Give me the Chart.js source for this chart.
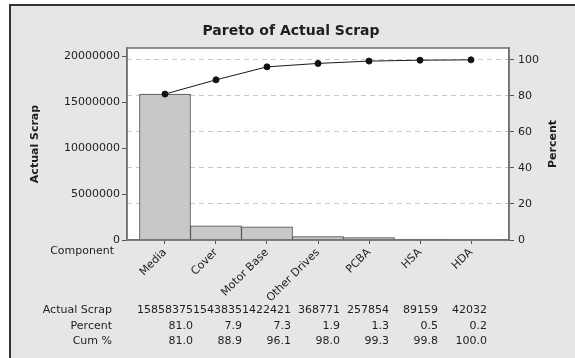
<!DOCTYPE html>
<html>
<head>
<meta charset="utf-8">
<script src="https://cdn.jsdelivr.net/npm/chart.js@4/dist/chart.umd.min.js"></script>
<style>
  html, body { margin: 0; padding: 0; background: #ffffff; }
  canvas { display: block; }
</style>
</head>
<body>
<canvas id="c" width="575" height="358"></canvas>
<script>
const categories = ['Media', 'Cover', 'Motor Base', 'Other Drives', 'PCBA', 'HSA', 'HDA'];
const actualScrap = [15858375, 1543835, 1422421, 368771, 257854, 89159, 42032];
const percent = [81.0, 7.9, 7.3, 1.9, 1.3, 0.5, 0.2];
const cumPercent = [81.0, 88.9, 96.1, 98.0, 99.3, 99.8, 100.0];
const scrapTicks = [0, 5000000, 10000000, 15000000, 20000000];
const percentTicks = [0, 20, 40, 60, 80, 100];

const FONT = 'DejaVu Sans';
const TEXT = '#1e1e1e';
const AXIS = '#707070';
const total = actualScrap.reduce((a, b) => a + b, 0);
const leftMax = 20870000;
const rightMax = leftMax / total * 100;

const framePlugin = {
  id: 'frame',
  beforeDraw(chart) {
    const ctx = chart.ctx;
    const { width, height, chartArea: a } = chart;
    ctx.save();
    ctx.fillStyle = '#ffffff';
    ctx.fillRect(0, 0, width, height);
    ctx.fillStyle = '#e6e6e6';
    ctx.fillRect(10, 5, width - 10, height - 5);
    ctx.strokeStyle = '#333333';
    ctx.lineWidth = 2;
    ctx.beginPath();
    ctx.moveTo(10, height);
    ctx.lineTo(10, 5);
    ctx.lineTo(width, 5);
    ctx.stroke();
    ctx.fillStyle = '#ffffff';
    ctx.fillRect(a.left, a.top, a.right - a.left, a.bottom - a.top);
    ctx.restore();
  },
  afterDraw(chart) {
    const ctx = chart.ctx;
    const a = chart.chartArea;
    ctx.save();
    ctx.strokeStyle = AXIS;
    ctx.lineWidth = 1.5;
    ctx.strokeRect(a.left, a.top, a.right - a.left, a.bottom - a.top);
    ctx.fillStyle = TEXT;
    ctx.font = 'bold 14px "' + FONT + '"';
    ctx.textAlign = 'center';
    ctx.textBaseline = 'middle';
    ctx.fillText('Pareto of Actual Scrap', 291, 31);
    // right axis title, reading bottom to top
    ctx.save();
    ctx.translate(553, (a.top + a.bottom) / 2);
    ctx.rotate(-Math.PI / 2);
    ctx.font = 'bold 11px "' + FONT + '"';
    ctx.fillText('Percent', 0, 0);
    ctx.restore();
    ctx.font = '11px "' + FONT + '"';
    ctx.textAlign = 'right';
    ctx.fillText('Component', 114, 251);
    const rows = [
      ['Actual Scrap', actualScrap.map(v => String(v)), 310],
      ['Percent', percent.map(v => v.toFixed(1)), 326.5],
      ['Cum %', cumPercent.map(v => v.toFixed(1)), 341.5]
    ];
    rows.forEach(([label, vals, y]) => {
      ctx.textAlign = 'right';
      ctx.fillText(label, 112, y);
      vals.forEach((t, i) => ctx.fillText(t, 193 + i * 49, y));
    });
    ctx.restore();
  }
};

new Chart(document.getElementById('c'), {
  type: 'bar',
  data: {
    datasets: [
      {
        type: 'line',
        label: 'Cum %',
        yAxisID: 'y2',
        order: 0,
        data: cumPercent.map((v, i) => ({ x: i, y: v })),
        borderColor: '#1a1a1a',
        borderWidth: 1,
        backgroundColor: '#111111',
        pointBackgroundColor: '#111111',
        pointBorderColor: '#111111',
        pointRadius: 3,
        tension: 0
      },
      {
        type: 'bar',
        label: 'Actual Scrap',
        yAxisID: 'y',
        order: 1,
        data: actualScrap.map((v, i) => ({ x: i, y: v })),
        backgroundColor: '#c8c8c8',
        borderColor: '#4a4a4a',
        borderWidth: 1,
        barPercentage: 1,
        categoryPercentage: 1
      }
    ]
  },
  options: {
    responsive: false,
    animation: false,
    devicePixelRatio: 1,
    layout: { padding: { top: 48, left: 0, right: 0, bottom: 0 } },
    plugins: { legend: { display: false }, tooltip: { enabled: false }, title: { display: false } },
    scales: {
      x: {
        type: 'linear',
        offset: false,
        min: -0.745,
        max: 6.745,
        afterBuildTicks: s => { s.ticks = categories.map((c, i) => ({ value: i })); },
        afterFit: s => { s.height = 118; },
        ticks: {
          autoSkip: false,
          minRotation: 45,
          maxRotation: 45,
          padding: 2,
          color: TEXT,
          font: { family: FONT, size: 11 },
          callback: v => categories[v]
        },
        grid: { offset: false, drawOnChartArea: false, drawTicks: true, tickLength: 4, tickColor: '#555555', color: '#555555' },
        border: { display: true, color: AXIS, width: 1.5 }
      },
      y: {
        position: 'left',
        min: 0,
        max: leftMax,
        afterBuildTicks: s => { s.ticks = scrapTicks.map(v => ({ value: v })); },
        afterFit: s => { s.width = 127; },
        ticks: { padding: 2, color: TEXT, font: { family: FONT, size: 11 }, callback: v => String(v) },
        grid: { drawOnChartArea: false, drawTicks: true, tickLength: 5, tickColor: '#555555', color: '#555555' },
        border: { display: true, color: AXIS, width: 1.5 },
        title: { display: true, text: 'Actual Scrap', color: TEXT, font: { family: FONT, size: 11, weight: 'bold' }, padding: { top: 28.4, bottom: 0 } }
      },
      y2: {
        position: 'right',
        min: 0,
        max: rightMax,
        afterBuildTicks: s => { s.ticks = percentTicks.map(v => ({ value: v })); },
        afterFit: s => { s.width = 66; },
        ticks: { padding: 4, color: TEXT, font: { family: FONT, size: 11 }, callback: v => String(v) },
        grid: { drawOnChartArea: true, drawTicks: true, tickLength: 5, tickColor: '#555555', color: '#c8c8c8', lineWidth: 1, tickBorderDash: [] },
        border: { display: true, color: AXIS, width: 1.5, dash: [5, 4] }
      }
    }
  },
  plugins: [framePlugin]
});
</script>
</body>
</html>
